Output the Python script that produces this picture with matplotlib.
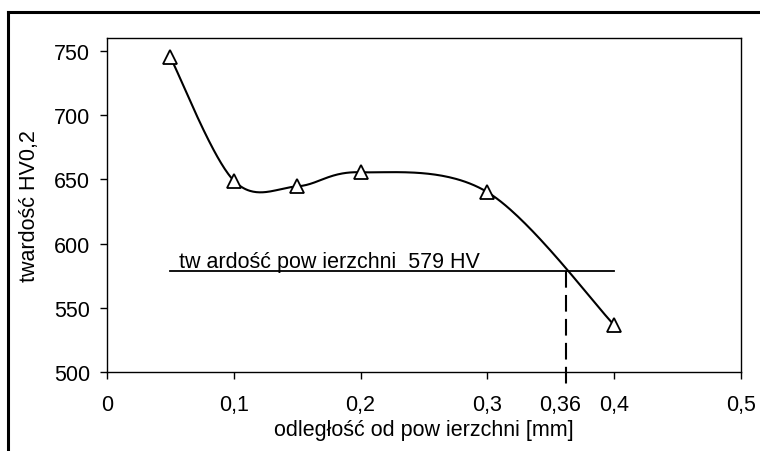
import numpy as np
import matplotlib
matplotlib.use("Agg")
import matplotlib.pyplot as plt
from matplotlib.lines import Line2D

plt.rcParams['font.family'] = ['Liberation Sans', 'DejaVu Sans']

# data
depth_mm = [0.05, 0.10, 0.15, 0.20, 0.30, 0.40]
hardness_hv = [745, 649, 644.5, 655.5, 640, 536.5]
surface_hardness = 579
surface_x_range = [0.05, 0.40]
cross_x = 0.362
xtick_vals = [0, 0.1, 0.2, 0.3, 0.4, 0.5]
xtick_labels = ["0", "0,1", "0,2", "0,3", "0,4", "0,5"]
ytick_vals = [500, 550, 600, 650, 700, 750]
extra_label = "0,36"
surface_label = "tw ardość pow ierzchni  579 HV"
xlabel = "odległość od pow ierzchni [mm]"
ylabel = "twardość HV0,2"


def excel_smooth(xs, ys, n=60):
    P = np.column_stack([xs, ys]).astype(float)
    out = []
    for i in range(len(P) - 1):
        p0 = P[i - 1] if i > 0 else P[i]
        p1 = P[i]
        p2 = P[i + 1]
        p3 = P[i + 2] if i + 2 < len(P) else P[i + 1]
        c1 = p1 + (p2 - p0) / 6.0
        c2 = p2 - (p3 - p1) / 6.0
        t = np.linspace(0, 1, n)[:, None]
        seg = ((1 - t) ** 3) * p1 + 3 * ((1 - t) ** 2) * t * c1 + 3 * (1 - t) * t ** 2 * c2 + t ** 3 * p2
        out.append(seg if i == 0 else seg[1:])
    s = np.vstack(out)
    return s[:, 0], s[:, 1]


FS = 15.5

fig = plt.figure(figsize=(7.6, 4.52), dpi=100)
ax = fig.add_axes([107 / 760, 1 - 373 / 452, (741 - 107) / 760, (373 - 39) / 452])

sx, sy = excel_smooth(depth_mm, hardness_hv)
ax.plot(sx, sy, color='black', lw=1.5, zorder=3)
ax.plot(depth_mm, hardness_hv, linestyle='none', marker='^', markersize=10,
        markerfacecolor='white', markeredgecolor='black', markeredgewidth=1.3, zorder=4)

ax.plot(surface_x_range, [surface_hardness, surface_hardness], color='black', lw=1.3, zorder=2)
ax.text(0.057, surface_hardness + 2.7, surface_label, fontsize=FS, ha='left', va='baseline')

ax.plot([cross_x, cross_x], [surface_hardness, 487], color='black', lw=1.5,
        dashes=(8, 3.5), clip_on=False, zorder=2)

ax.set_xlim(0, 0.5)
ax.set_ylim(500, 760)
ax.set_xticks(xtick_vals)
ax.set_xticklabels(xtick_labels)
ax.set_yticks(ytick_vals)
ax.tick_params(axis='both', direction='out', length=5, width=1, labelsize=FS, colors='black')
ax.tick_params(axis='x', pad=11)
ax.tick_params(axis='y', pad=7)
ax.annotate(extra_label, xy=(0.357, 0), xycoords=('data', 'axes fraction'),
            xytext=(0, -16), textcoords='offset points', ha='center', va='top', fontsize=FS)

ax.set_xlabel(xlabel, fontsize=FS, labelpad=3)
ax.set_ylabel(ylabel, fontsize=FS, labelpad=10)

for s in ax.spines.values():
    s.set_linewidth(1.0)
    s.set_color('black')

# outer chart border (top and left visible)
fig.add_artist(Line2D([8 / 760, 1.0], [1 - 13 / 452, 1 - 13 / 452], transform=fig.transFigure,
                      color='black', lw=2.2))
fig.add_artist(Line2D([8 / 760, 8 / 760], [0.0, 1 - 13 / 452], transform=fig.transFigure,
                      color='black', lw=2.2))

fig.savefig('out.png', dpi=100)
